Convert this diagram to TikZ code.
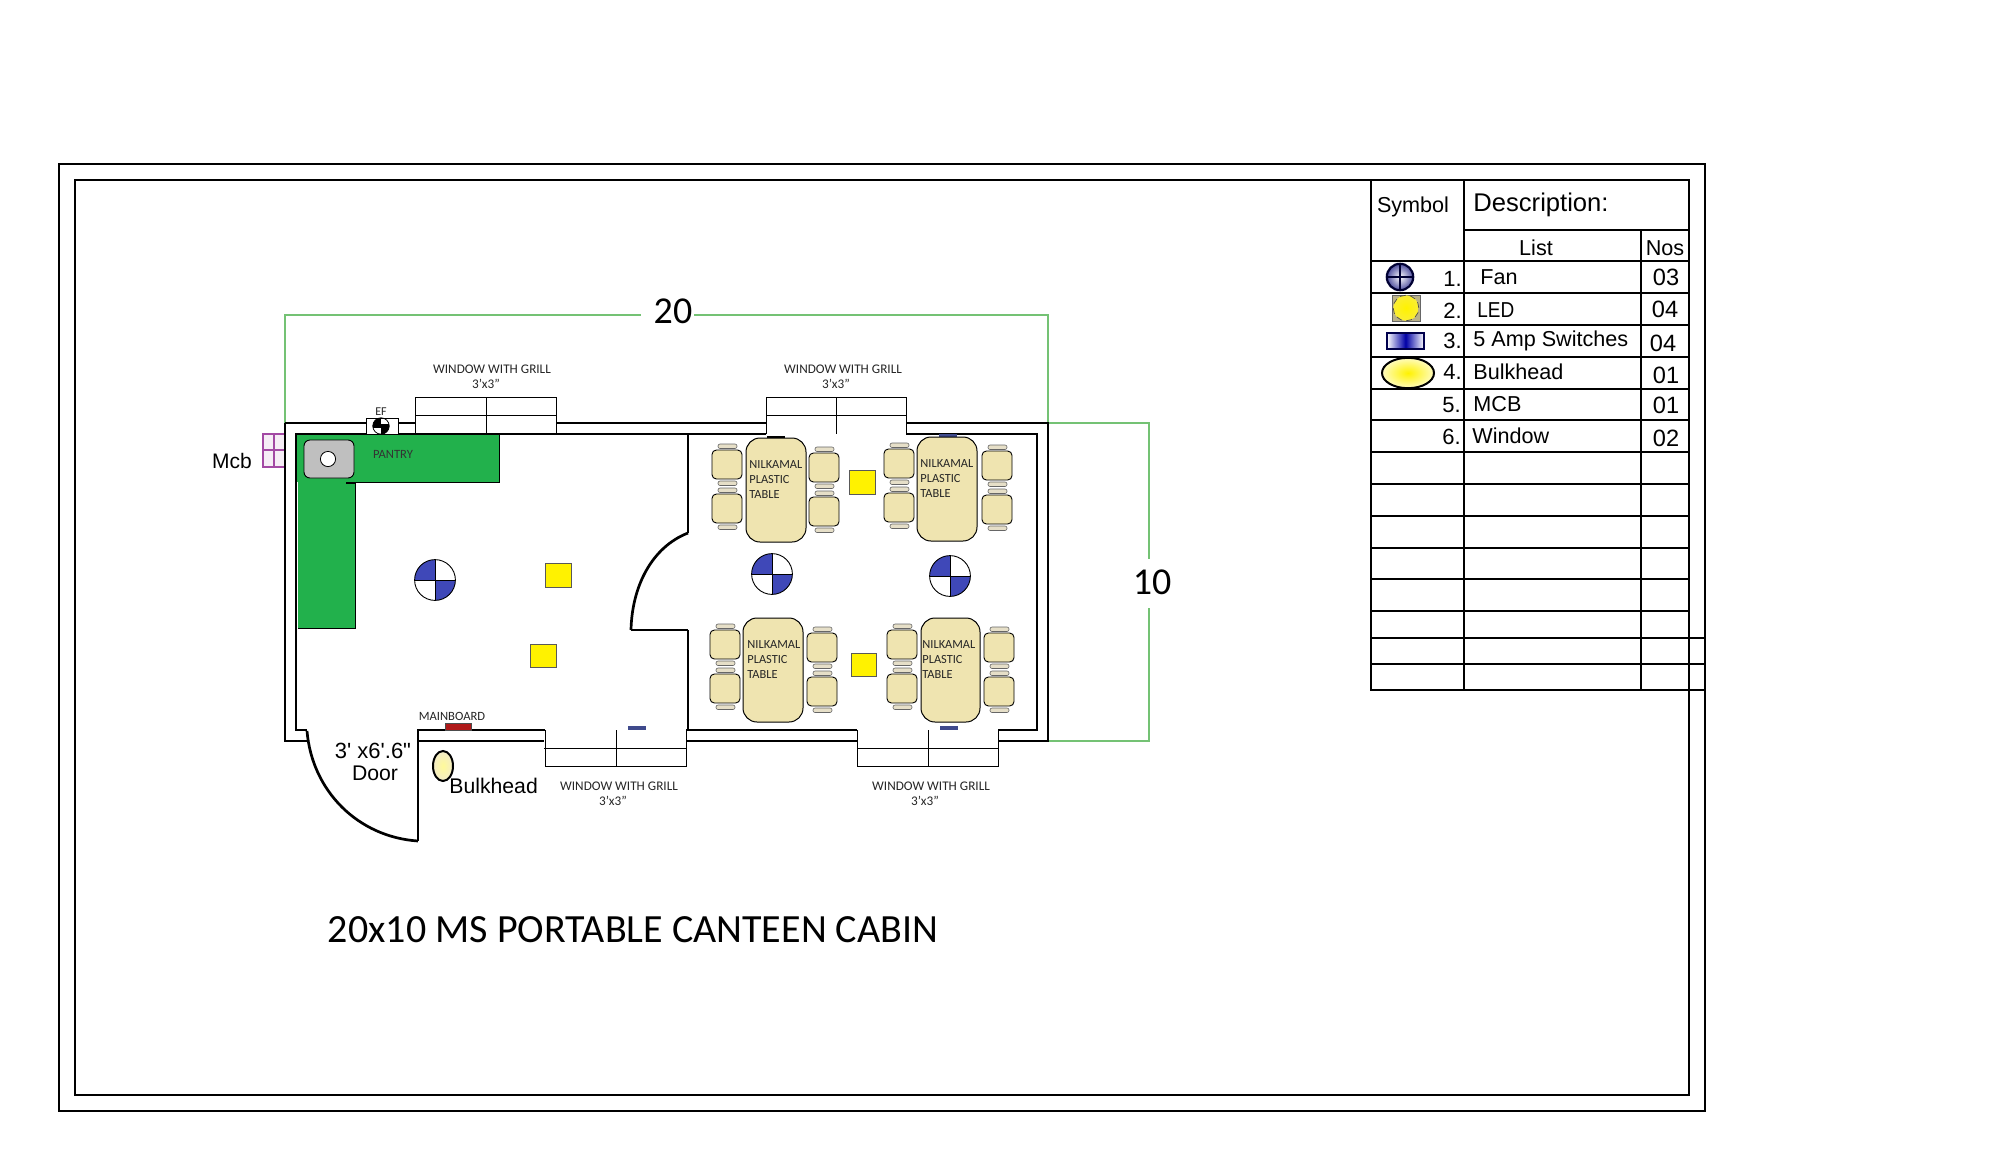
\documentclass[tikz,border=0pt]{standalone}
\usepackage{fontspec}
\setmainfont{Carlito}
\newfontfamily\arialf{Liberation Sans}
\usetikzlibrary{shadings}
\definecolor{pantrygreen}{HTML}{22B14C}
\definecolor{dimgreen}{HTML}{74C274}
\definecolor{tabletan}{HTML}{EFE4B0}
\definecolor{backtan}{HTML}{E6DFC8}
\definecolor{fanblue}{HTML}{3F48B8}
\definecolor{ledyellow}{HTML}{FFF200}
\definecolor{mcbpurple}{HTML}{A349A4}
\definecolor{switchblue}{HTML}{3F4A8C}
\tikzset{
  frameline/.style={black,line width=1.1pt},
  wall/.style={black,line width=1.35pt},
  thinwall/.style={black,line width=0.75pt},
  winline/.style={black,line width=0.5pt},
  dimline/.style={dimgreen,line width=1.2pt},
  gridline/.style={black,line width=0.95pt},
  seat/.style={draw=black,line width=0.45pt,fill=tabletan,rounded corners=2.2pt},
  chairback/.style={draw=black!60,line width=0.3pt,fill=backtan,rounded corners=1pt},
  tabletop/.style={draw=black,line width=0.5pt,fill=tabletan,rounded corners=7pt},
  led/.style={draw=black!65,line width=0.4pt,fill=ledyellow},
  smalltxt/.style={inner sep=0,text=black!85,font=\fontsize{6.6}{7.5}\selectfont},
  tabletxt/.style={inner sep=0,anchor=west,align=left,text=black!85,font=\fontsize{6.2}{7.5}\selectfont},
  arialtxt/.style={inner sep=0,font=\arialf\fontsize{10.8}{12}\selectfont},
  legname/.style={inner sep=0,anchor=west,font=\arialf\fontsize{10.8}{12}\selectfont},
  legnum/.style={inner sep=0,anchor=east,font=\arialf\fontsize{11}{12}\selectfont},
  legqty/.style={inner sep=0,font=\arialf\fontsize{11.8}{13}\selectfont},
}
\newcommand{\chairpair}[2]{%
  \begin{scope}[shift={(#1,#2)}]
    \draw[chairback] (6,-6) rectangle (25,-1.5);
    \draw[chairback] (6,31) rectangle (25,35.5);
    \draw[chairback] (6,38) rectangle (25,42.5);
    \draw[chairback] (6,75) rectangle (25,79.5);
    \draw[seat] (0,0) rectangle (30,29);
    \draw[seat] (0,44) rectangle (30,73);
  \end{scope}}
\newcommand{\fanmark}[2]{%
  \begin{scope}[shift={(#1,#2)}]
    \begin{scope}
      \clip (0,0) circle [radius=10.2pt];
      \fill[fanblue] (-22,-22) rectangle (0,0);
      \fill[fanblue] (0,0) rectangle (22,22);
    \end{scope}
    \draw[black,line width=0.45pt] (0,0) circle [radius=10.2pt];
    \draw[black,line width=0.45pt] (-20.4,0) -- (20.4,0) (0,-20.4) -- (0,20.4);
  \end{scope}}
\begin{document}
\begin{tikzpicture}[x=0.5pt,y=-0.5pt]
\useasboundingbox (0,-1) rectangle (2002,1161);
\fill[white] (0,-1) rectangle (2002,1161);

% frames
\draw[frameline] (1705,1110) -- (59,1110) -- (59,163) -- (1705,163) -- cycle;
\draw[frameline] (75,179) rectangle (1689,1094);

% dimension lines
\node[inner sep=0,font=\fontsize{19}{20}\selectfont] (dimtw) at (673,310) {20};
\node[inner sep=0,font=\fontsize{19}{20}\selectfont] (dimte) at (1152,581) {10};
\coordinate (gtl) at (285,314);
\coordinate (gtr) at (1048,314);
\coordinate (gwl) at (285,422);
\coordinate (gwr) at (1048,422);
\coordinate (grt) at (1149,422);
\coordinate (grb) at (1149,740);
\coordinate (gbl) at (1048,740);
\draw[dimline] (gwl) -- (gtl) -- (641,314);
\draw[dimline] (694,314) -- (gtr) -- (gwr);
\draw[dimline] (gwr) -- (grt) -- (1149,558);
\draw[dimline] (1149,607) -- (grb) -- (gbl);

% pantry
\fill[pantrygreen] (296,433) rectangle (499,481);
\fill[pantrygreen] (298,481) rectangle (355,627);
\draw[black,line width=0.45pt] (499,433) -- (499,481) -- (346,481);
\draw[black,line width=0.45pt] (355,481) -- (355,627) -- (298,627);
\draw[black,line width=1pt] (346,481.5) -- (355,481.5);
\draw[black,line width=0.45pt,fill=black!25,rounded corners=3pt] (304,439) rectangle (354,477);
\draw[black,line width=0.4pt,fill=white] (328,458) circle [radius=3.8pt];
\node[inner sep=0,text=black!80,font=\fontsize{6.3}{7}\selectfont] (pantry) at (393,453) {PANTRY};

% mcb
\draw[mcbpurple,line width=0.9pt,fill=mcbpurple!10] (263,433) rectangle (285,466);
\draw[mcbpurple,line width=0.9pt] (263,449) -- (285,449) (274,433) -- (274,466);
\node[inner sep=0,font=\arialf\fontsize{10.5}{12}\selectfont] (mcb) at (232,460) {Mcb};

% walls
\draw[wall] (285,422) -- (285,740) -- (307,740);
\draw[wall] (415,422) -- (366,422);
\draw[wall] (366,422) -- (285,422);
\draw[wall] (557,422) -- (766,422);
\draw[wall] (906,422) -- (1048,422) -- (1048,740) -- (998,740);
\draw[wall] (766,433) -- (296,433) -- (296,729) -- (307,729);
\draw[wall] (906,433) -- (1037,433) -- (1037,729) -- (998,729);
\draw[wall] (418,840) -- (418,729) -- (545,729);
\draw[wall] (418,740) -- (544,740);
\draw[wall] (686,729) -- (857,729);
\draw[wall] (686,740) -- (857,740);
% door swing
\draw[wall] (307,730) .. controls (312,790) and (358,836) .. (418,840);
% partition
\draw[thinwall] (688,433) -- (688,532);
\draw[thinwall] (688,629) -- (688,729);
\draw[wall] (688,532) .. controls (652,546) and (632,585) .. (631,629);
\draw[wall] (631,629) -- (688,629);

% exhaust fan
\draw[black,line width=0.5pt,fill=white] (366,417) rectangle (398,433);
\begin{scope}[shift={(381,425)}]
  \clip (0,0) circle [radius=4.1pt];
  \fill[black] (-9,-9) rectangle (0,0);
  \fill[black] (0,0) rectangle (9,9);
  \fill[black] (-9,-2) rectangle (9,2);
\end{scope}
\draw[black,line width=0.4pt] (381,425) circle [radius=4.1pt];
\node[inner sep=0,text=black!85,font=\fontsize{6}{7}\selectfont] (ef) at (381,411) {EF};

% windows top
\draw[winline] (415,433) -- (415,396) -- (556,396) -- (556,433);
\draw[winline] (415,414) -- (557,414) (486,396) -- (486,433);
\draw[winline] (766,433) -- (766,396) -- (906,396) -- (906,433);
\draw[winline] (766,414) -- (907,414) (836,396) -- (836,433);
% windows bottom
\draw[winline] (545,729) -- (545,765) -- (686,765) -- (686,729);
\draw[winline] (544,747) -- (686,747) (616,729) -- (616,765);
\draw[winline] (857,729) -- (857,765) -- (998,765) -- (998,729);
\draw[winline] (857,747) -- (998,747) (928,729) -- (928,765);

\node[smalltxt] (w1a) at (492,368) {WINDOW WITH GRILL};
\node[smalltxt] (w1b) at (486,383) {3'x3"};
\node[smalltxt] (w2a) at (843,368) {WINDOW WITH GRILL};
\node[smalltxt] (w2b) at (836,383) {3'x3"};
\node[smalltxt] (w3a) at (619,785) {WINDOW WITH GRILL};
\node[smalltxt] (w3b) at (613,800) {3'x3"};
\node[smalltxt] (w4a) at (931,785) {WINDOW WITH GRILL};
\node[smalltxt] (w4b) at (925,800) {3'x3"};

% switches and mainboard
\draw[black!70,line width=0.3pt,fill=red!65!black!90] (445,722) rectangle (471,729);
\node[inner sep=0,text=black!85,font=\fontsize{6.3}{7}\selectfont] (mainb) at (452,715) {MAINBOARD};
\fill[switchblue] (628,725) rectangle (646,729);
\fill[switchblue] (940,725) rectangle (958,729);
\fill[switchblue] (939,433) rectangle (957,436);
\fill[black] (767,435) rectangle (785,437);

% door and bulkhead labels
\node[inner sep=0,font=\arialf\fontsize{11}{12}\selectfont] (doora) at (373,750) {3' x6'.6"};
\node[inner sep=0,font=\arialf\fontsize{10.6}{12}\selectfont] (doorb) at (375,772) {Door};
\shadedraw[inner color=white!60!ledyellow,outer color=tabletan!70,draw=black,line width=1pt] (443,765) ellipse [x radius=5pt,y radius=7.5pt];
\node[inner sep=0,anchor=west,font=\arialf\fontsize{10.6}{12}\selectfont] (bulk) at (449,785) {Bulkhead};

% fans and lights
\fanmark{435}{579}
\fanmark{772}{573}
\fanmark{950}{575}
\draw[led] (545,562) rectangle (571,586);
\draw[led] (530,643) rectangle (556,666);
\draw[led] (849,469) rectangle (875,493);
\draw[led] (851,652) rectangle (876,675);

% tables and chairs
\chairpair{712}{449}
\chairpair{809}{452}
\chairpair{884}{448}
\chairpair{982}{450}
\chairpair{710}{629}
\chairpair{807}{632}
\chairpair{887}{629}
\chairpair{984}{632}
\draw[tabletop] (746,437) rectangle (806,541);
\draw[tabletop] (917,436) rectangle (977,540);
\draw[tabletop] (743,617) rectangle (803,721);
\draw[tabletop] (921,617) rectangle (980,721);
\node[tabletxt] (t1) at (749,479) {NILKAMAL\\PLASTIC\\TABLE};
\node[tabletxt] (t2) at (920,478) {NILKAMAL\\PLASTIC\\TABLE};
\node[tabletxt] (t3) at (747,659) {NILKAMAL\\PLASTIC\\TABLE};
\node[tabletxt] (t4) at (922,659) {NILKAMAL\\PLASTIC\\TABLE};

% title
\node[inner sep=0,font=\fontsize{20}{22}\selectfont] (title) at (633,929) {20x10 MS PORTABLE CANTEEN CABIN};

% legend symbols
\shadedraw[inner color=white,outer color=blue!45!black!70!white,draw=black!80!blue,line width=1.1pt] (1400,276) circle [radius=6.6pt];
\draw[black!80!blue,line width=0.9pt] (1387,276) -- (1413,276) (1400,263) -- (1400,289);
\draw[black!60,line width=0.4pt,fill=black!22!tabletan] (1392,294) rectangle (1420,320);
\shade[inner color=ledyellow,outer color=ledyellow!70!tabletan] (1406,307) circle [radius=6.4pt];
\draw[black!70,line width=0.35pt,densely dashed] (1406,307) circle [radius=6.4pt];
\shade[left color=white,right color=white,middle color=blue!65!black] (1387,332) rectangle (1424,348);
\draw[blue!30!black,line width=0.9pt] (1387,332) rectangle (1424,348);
\shadedraw[inner color=ledyellow,outer color=ledyellow!25,draw=black,line width=1pt] (1408,372) ellipse [x radius=13pt,y radius=7.6pt];

% legend grid
\draw[gridline] (1371,179) -- (1371,689) -- (1705,689);
\draw[gridline] (1464,179) -- (1464,689);
\draw[gridline] (1641,229) -- (1641,689);
\draw[gridline] (1463,229) -- (1689,229);
\foreach \yy in {260,292,324,356,388,419,451,483,515,547,578,610}
  \draw[gridline] (1371,\yy) -- (1689,\yy);
\draw[gridline] (1371,637) -- (1705,637);
\draw[gridline] (1371,663) -- (1705,663);

% legend text
\node[arialtxt] (lsym) at (1413,206) {Symbol};
\node[inner sep=0,anchor=west,font=\arialf\fontsize{12.8}{14}\selectfont] (ldesc) at (1473,204) {Description:};
\node[arialtxt] (llist) at (1536,247) {List};
\node[arialtxt] (lnos) at (1665,247) {Nos};
\node[legnum] (n1) at (1462,278) {1.};
\node[legnum] (n2) at (1462,310) {2.};
\node[legnum] (n3) at (1462,340) {3.};
\node[legnum] (n4) at (1462,371) {4.};
\node[legnum] (n5) at (1461,404) {5.};
\node[legnum] (n6) at (1461,436) {6.};
\node[legname] (d1) at (1480,276) {Fan};
\node[legname,xscale=0.88] (d2) at (1477,309) {LED};
\node[legname] (d3) at (1473,340) {5 Amp Switches};
\node[legname] (d4) at (1473,371) {Bulkhead};
\node[legname] (d5) at (1473,403) {MCB};
\node[legname] (d6) at (1472,435) {Window};
\node[legqty] (q1) at (1666,276) {03};
\node[legqty] (q2) at (1665,308) {04};
\node[legqty] (q3) at (1663,342) {04};
\node[legqty] (q4) at (1666,374) {01};
\node[legqty] (q5) at (1666,404) {01};
\node[legqty] (q6) at (1666,437) {02};
\end{tikzpicture}
\end{document}
